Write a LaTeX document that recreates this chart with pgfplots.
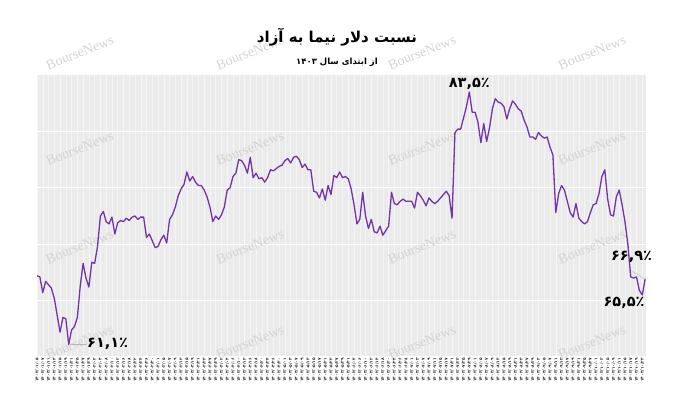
\documentclass[border=0pt]{standalone}
\usepackage{fontspec}
\usepackage{pgfplots}
\usepackage{pgfplotstable}
\pgfplotsset{compat=1.18}
\TeXXeTstate=1
\newfontfamily\fa[Script=Arabic]{DejaVu Sans}
\newfontfamily\wm{Liberation Serif}
\definecolor{lc}{RGB}{114,52,168}
\protected\def\pd#1{\pdloop#1\relax}
\def\pdloop#1{\ifx\relax#1\else\pdchar#1\expandafter\pdloop\fi}
\def\pdchar#1{\ifx/#1/\else\ifcase#1 ۰\or ۱\or ۲\or ۳\or ۴\or ۵\or ۶\or ۷\or ۸\or ۹\fi\fi}
\newcommand\dt[1]{\pd{1403/#1}}
\pgfplotstableread{
i v
0 67.2
1 67.1
2 65.7
3 66.7
4 66.4
5 66.1
6 65.2
7 63.7
8 62.2
9 63.5
10 63.4
11 61.1
12 62.4
13 62.7
14 63.5
15 66.3
16 68.3
17 67.0
18 66.2
19 68.4
20 68.3
21 69.8
22 72.5
23 72.9
24 72.0
25 71.8
26 72.4
27 70.9
28 71.9
29 72.1
30 72.0
31 72.3
32 72.1
33 72.4
34 72.5
35 72.2
36 72.4
37 72.4
38 70.6
39 70.9
40 70.3
41 69.7
42 69.8
43 70.4
44 70.8
45 70.1
46 72.2
47 72.6
48 73.3
49 74.3
50 74.9
51 75.3
52 76.4
53 75.6
54 76.0
55 75.5
56 75.2
57 75.2
58 74.8
59 74.2
60 73.3
61 72.0
62 72.5
63 72.2
64 72.6
65 73.3
66 74.8
67 75.0
68 76.0
69 76.3
70 77.5
71 77.4
72 77.0
73 76.3
74 77.7
75 75.9
76 76.3
77 75.8
78 75.9
79 75.5
80 75.9
81 76.6
82 76.5
83 76.7
84 76.9
85 77.0
86 77.4
87 77.6
88 77.2
89 77.7
90 77.8
91 77.5
92 76.8
93 77.1
94 76.6
95 76.6
96 74.7
97 74.6
98 74.1
99 74.9
100 73.9
101 75.2
102 74.4
103 76.1
104 75.9
105 76.4
106 75.9
107 76.0
108 75.8
109 74.9
110 73.5
111 71.8
112 72.2
113 74.6
114 72.5
115 71.4
116 72.2
117 71.1
118 71.0
119 71.6
120 70.8
121 71.2
122 71.6
123 74.6
124 73.6
125 73.5
126 73.8
127 74.0
128 73.8
129 73.8
130 73.8
131 73.2
132 74.6
133 74.3
134 73.9
135 73.4
136 74.1
137 73.8
138 73.6
139 73.8
140 74.1
141 74.4
142 74.7
143 74.3
144 72.3
145 79.9
146 80.2
147 80.2
148 81.2
149 82.2
150 83.5
151 81.7
152 81.7
153 80.8
154 79.0
155 80.7
156 79.1
157 80.3
158 82.0
159 82.9
160 82.6
161 82.5
162 82.2
163 81.1
164 82.0
165 82.7
166 82.4
167 82.0
168 81.8
169 81.0
170 80.4
171 79.5
172 79.5
173 79.3
174 79.9
175 79.6
176 79.4
177 79.5
178 78.6
179 77.9
180 72.8
181 74.5
182 75.2
183 74.8
184 73.8
185 72.8
186 72.4
187 73.6
188 72.3
189 72.0
190 71.8
191 72.0
192 72.8
193 73.5
194 73.6
195 74.5
196 76.0
197 76.6
198 74.0
199 72.6
200 72.5
201 74.2
202 74.8
203 73.5
204 72.0
205 70.0
206 67.1
207 67.0
208 67.1
209 65.9
210 65.5
211 66.9
}\ratio
\begin{document}
\begin{tikzpicture}[x=1pt,y=1pt]
\begin{axis}[
  at={(37pt,36pt)}, anchor=south west,
  scale only axis, width=609pt, height=282pt,
  xmin=0, xmax=211.3, ymin=60, ymax=85,
  axis background/.style={fill=gray!16},
  axis line style={draw=none},
  major tick length=0pt, minor tick length=0pt,
  tick style={draw=none},
  ytick=\empty,
  extra y ticks={60,65,70,75,80,85}, extra y tick labels={},
  extra y tick style={grid=major, major grid style={white, line width=1pt}},
  xtick={0,2,...,210},
  minor x tick num=1,
  xmajorgrids=true, xminorgrids=true,
  major grid style={gray!8, line width=0.5pt},
  minor grid style={gray!8, line width=0.5pt},
  xticklabel style={rotate=90, anchor=east, inner sep=0.8pt, text=black!85, font=\fa\bfseries\fontsize{4.2}{5}\selectfont},
  xticklabels={\dt{01/05},\dt{01/07},\dt{01/11},\dt{01/13},\dt{01/15},\dt{01/19},\dt{01/21},\dt{01/25},\dt{01/27},\dt{01/29},
\dt{02/02},\dt{02/04},\dt{02/08},\dt{02/10},\dt{02/12},\dt{02/16},\dt{02/18},\dt{02/22},\dt{02/24},\dt{02/26},
\dt{02/30},\dt{03/01},\dt{03/05},\dt{03/07},\dt{03/09},\dt{03/13},\dt{03/15},\dt{03/19},\dt{03/21},\dt{03/23},
\dt{03/27},\dt{03/29},\dt{04/02},\dt{04/04},\dt{04/06},\dt{04/10},\dt{04/12},\dt{04/16},\dt{04/18},\dt{04/20},
\dt{04/24},\dt{04/26},\dt{04/30},\dt{05/01},\dt{05/03},\dt{05/07},\dt{05/09},\dt{05/13},\dt{05/15},\dt{05/17},
\dt{05/21},\dt{05/23},\dt{05/27},\dt{05/29},\dt{05/31},\dt{06/04},\dt{06/06},\dt{06/10},\dt{06/12},\dt{06/14},
\dt{06/18},\dt{06/20},\dt{06/24},\dt{06/26},\dt{06/28},\dt{07/01},\dt{07/03},\dt{07/07},\dt{07/09},\dt{07/11},
\dt{07/15},\dt{07/17},\dt{07/21},\dt{07/23},\dt{07/25},\dt{07/29},\dt{08/01},\dt{08/05},\dt{08/07},\dt{08/09},
\dt{08/13},\dt{08/15},\dt{08/19},\dt{08/21},\dt{08/23},\dt{08/27},\dt{08/29},\dt{09/03},\dt{09/05},\dt{09/07},
\dt{09/11},\dt{09/13},\dt{09/17},\dt{09/19},\dt{09/21},\dt{09/25},\dt{09/27},\dt{10/01},\dt{10/03},\dt{10/05},
\dt{10/09},\dt{10/11},\dt{10/15},\dt{10/17},\dt{10/19},\dt{10/23}},
  clip=false,
]
% watermarks
\foreach \wx in {14.9,73.9,133.6,192.6}{
  \foreach \wy in {87.0,78.5,69.8,61.3}{
    \edef\tmp{\noexpand\node[font=\noexpand\wm\noexpand\fontsize{14}{14}\noexpand\selectfont, text=black!17, rotate=22] at (axis cs:\wx,\wy) {BourseNews};}
    \tmp
  }
}
\addplot[lc, line width=1.3pt, line join=round] table[x=i,y=v]{\ratio};
% annotations
\node[font=\fa\bfseries\fontsize{14.5}{14.5}\selectfont, anchor=south, inner sep=1pt] at (axis cs:150,83.6) {۸۳,۵٪};
\draw[gray!55, line width=0.5pt] (axis cs:11,61.1) -- (axis cs:17.2,61.1);
\node[font=\fa\bfseries\fontsize{14.5}{14.5}\selectfont, anchor=west, inner sep=1pt] at (axis cs:17.0,61.2) {۶۱,۱٪};
\draw[gray!55, line width=0.5pt] (axis cs:206.6,67.6) -- (axis cs:211,66.9);
\node[font=\fa\bfseries\fontsize{14.5}{14.5}\selectfont, inner sep=1pt] at (axis cs:206.3,68.9) {۶۶,۹٪};
\node[font=\fa\bfseries\fontsize{14.5}{14.5}\selectfont, inner sep=1pt] at (axis cs:203.7,64.8) {۶۵,۵٪};
\end{axis}
\node[font=\fa\bfseries\fontsize{15}{16}\selectfont] at (337,356) {\beginR نسبت دلار نیما به آزاد\endR};
\node[font=\fa\bfseries\fontsize{8.5}{10}\selectfont] at (337,331) {\beginR از ابتدای سال \beginL۱۴۰۳\endL\endR};
\pgfresetboundingbox
\path[use as bounding box] (0,0) rectangle (674,393);
\end{tikzpicture}
\end{document}
